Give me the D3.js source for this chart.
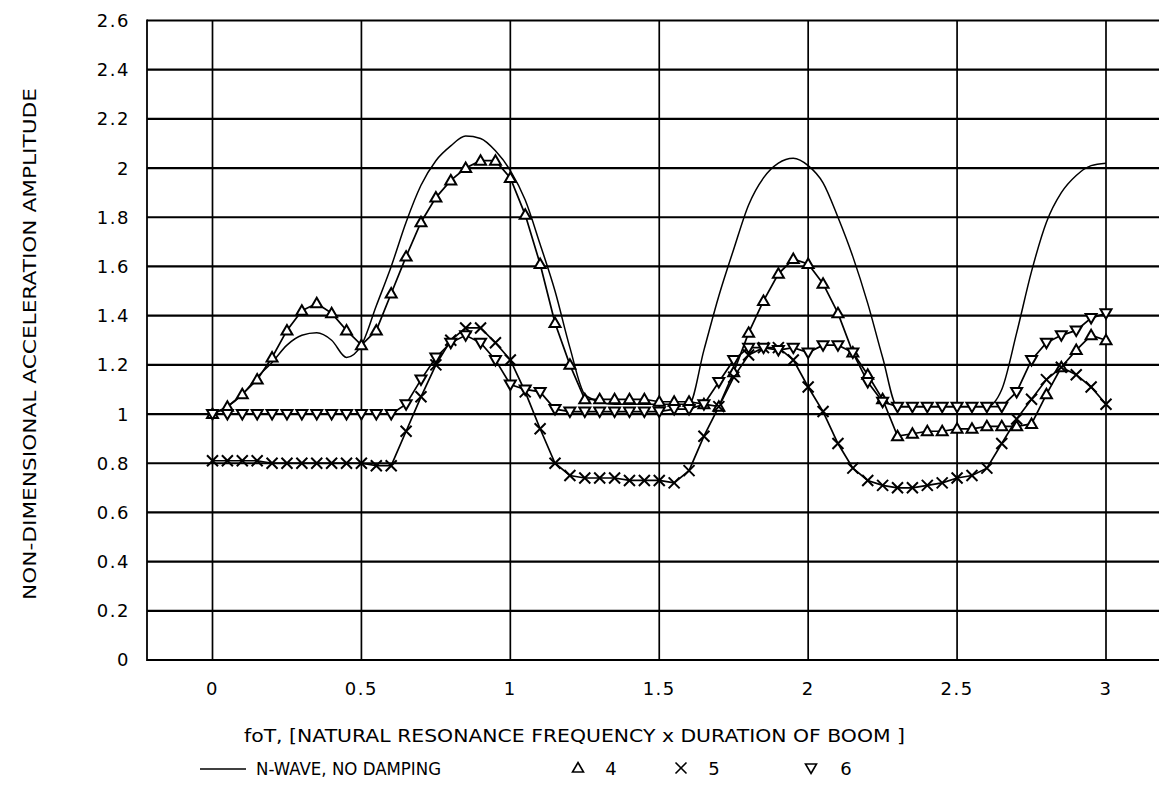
<!DOCTYPE html>
<html>
<head>
<meta charset="utf-8">
<script src="https://cdn.jsdelivr.net/npm/d3@7"></script>
<style>
  body { margin: 0; background: #fff; }
  svg { display: block; }
  text { font-family: "DejaVu Sans", sans-serif; fill: #000; }
</style>
</head>
<body>
<svg id="chart"></svg>
<script>
// foT sample positions (natural resonance frequency x duration of boom)
const foT = [
  0, 0.05, 0.1, 0.15, 0.2, 0.25, 0.3, 0.35, 0.4, 0.45,
  0.5, 0.55, 0.6, 0.65, 0.7, 0.75, 0.8, 0.85, 0.9, 0.95,
  1, 1.05, 1.1, 1.15, 1.2, 1.25, 1.3, 1.35, 1.4, 1.45,
  1.5, 1.55, 1.6, 1.65, 1.7, 1.75, 1.8, 1.85, 1.9, 1.95,
  2, 2.05, 2.1, 2.15, 2.2, 2.25, 2.3, 2.35, 2.4, 2.45,
  2.5, 2.55, 2.6, 2.65, 2.7, 2.75, 2.8, 2.85, 2.9, 2.95, 3
];

// N-wave, no damping (plain line)
const nWave = [
  1.00, 1.03, 1.08, 1.15, 1.21, 1.28, 1.32, 1.33, 1.30, 1.23,
  1.28, 1.44, 1.60, 1.78, 1.93, 2.03, 2.09, 2.13, 2.12, 2.07,
  1.99, 1.87, 1.69, 1.50, 1.27, 1.08, 1.05, 1.04, 1.04, 1.04,
  1.04, 1.04, 1.04, 1.26, 1.48, 1.67, 1.85, 1.96, 2.02, 2.04,
  2.01, 1.94, 1.80, 1.64, 1.45, 1.23, 1.03, 1.03, 1.03, 1.03,
  1.03, 1.03, 1.03, 1.10, 1.33, 1.58, 1.78, 1.90, 1.97, 2.01, 2.02
];

// case 4 (open triangles)
const case4 = [
  1.00, 1.03, 1.08, 1.14, 1.23, 1.34, 1.42, 1.45, 1.41, 1.34,
  1.28, 1.34, 1.49, 1.64, 1.78, 1.88, 1.95, 2.00, 2.03, 2.03,
  1.96, 1.81, 1.61, 1.37, 1.20, 1.06, 1.06, 1.06, 1.06, 1.06,
  1.05, 1.05, 1.05, 1.04, 1.03, 1.17, 1.33, 1.46, 1.57, 1.63,
  1.61, 1.53, 1.41, 1.25, 1.16, 1.06, 0.91, 0.92, 0.93, 0.93,
  0.94, 0.94, 0.95, 0.95, 0.95, 0.96, 1.08, 1.19, 1.26, 1.32, 1.30
];

// case 5 (crosses)
const case5 = [
  0.81, 0.81, 0.81, 0.81, 0.80, 0.80, 0.80, 0.80, 0.80, 0.80,
  0.80, 0.79, 0.79, 0.93, 1.07, 1.20, 1.30, 1.35, 1.35, 1.29,
  1.22, 1.09, 0.94, 0.80, 0.75, 0.74, 0.74, 0.74, 0.73, 0.73,
  0.73, 0.72, 0.77, 0.91, 1.03, 1.15, 1.24, 1.27, 1.27, 1.22,
  1.11, 1.01, 0.88, 0.78, 0.73, 0.71, 0.70, 0.70, 0.71, 0.72,
  0.74, 0.75, 0.78, 0.88, 0.98, 1.06, 1.14, 1.19, 1.16, 1.11, 1.04
];

// case 6 (inverted open triangles)
const case6 = [
  1.00, 1.00, 1.00, 1.00, 1.00, 1.00, 1.00, 1.00, 1.00, 1.00,
  1.00, 1.00, 1.00, 1.04, 1.14, 1.23, 1.29, 1.32, 1.29, 1.22,
  1.12, 1.10, 1.09, 1.02, 1.01, 1.01, 1.01, 1.01, 1.01, 1.01,
  1.01, 1.02, 1.02, 1.04, 1.13, 1.22, 1.27, 1.27, 1.26, 1.27,
  1.25, 1.28, 1.28, 1.25, 1.13, 1.05, 1.03, 1.03, 1.03, 1.03,
  1.03, 1.03, 1.03, 1.03, 1.09, 1.22, 1.29, 1.32, 1.34, 1.39, 1.41
];

const yTicks = [0, 0.2, 0.4, 0.6, 0.8, 1, 1.2, 1.4, 1.6, 1.8, 2, 2.2, 2.4, 2.6];
const xTicks = [0, 0.5, 1, 1.5, 2, 2.5, 3];

const width = 1159;
const height = 792;

const svg = d3.select('#chart')
  .attr('width', width)
  .attr('height', height);

svg.append('rect')
  .attr('width', width)
  .attr('height', height)
  .attr('fill', '#fff');

const x = d3.scaleLinear().domain([0, 3]).range([212.5, 1106]);
const y = d3.scaleLinear().domain([0, 2.6]).range([660, 20.5]);
const frameLeft = 147;
const frameRight = width + 10;

// grid
const grid = svg.append('g').attr('id', 'grid');

grid.selectAll('line.h')
  .data(yTicks)
  .join('line')
  .attr('class', 'h')
  .attr('x1', frameLeft)
  .attr('x2', frameRight)
  .attr('y1', d => y(d))
  .attr('y2', d => y(d))
  .attr('stroke', '#000')
  .attr('stroke-width', 2.2);

grid.selectAll('line.v')
  .data(xTicks)
  .join('line')
  .attr('class', 'v')
  .attr('x1', d => x(d))
  .attr('x2', d => x(d))
  .attr('y1', y(0))
  .attr('y2', y(2.6))
  .attr('stroke', '#000')
  .attr('stroke-width', 1.7);

grid.append('line')
  .attr('x1', frameLeft).attr('x2', frameLeft)
  .attr('y1', y(0) + 1).attr('y2', y(2.6) - 1)
  .attr('stroke', '#000')
  .attr('stroke-width', 1.8);

// tick labels
svg.append('g')
  .selectAll('text')
  .data(yTicks)
  .join('text')
  .attr('x', 130)
  .attr('y', d => y(d))
  .attr('dy', '0.36em')
  .attr('text-anchor', 'end')
  .attr('font-size', 18)
  .attr('letter-spacing', 1.5)
  .text(d => d3.format('~g')(d));

svg.append('g')
  .selectAll('text')
  .data(xTicks)
  .join('text')
  .attr('x', d => x(d))
  .attr('y', 689)
  .attr('dy', '0.36em')
  .attr('text-anchor', 'middle')
  .attr('font-size', 18)
  .attr('letter-spacing', 1.5)
  .text(d => d3.format('~g')(d));

// axis titles
svg.append('text')
  .attr('transform', 'translate(36,344) rotate(-90)')
  .attr('text-anchor', 'middle')
  .attr('font-size', 17)
  .attr('textLength', 512)
  .attr('lengthAdjust', 'spacingAndGlyphs')
  .text('NON-DIMENSIONAL ACCELERATION AMPLITUDE');

svg.append('text')
  .attr('x', 244)
  .attr('y', 742)
  .attr('font-size', 17)
  .attr('textLength', 661)
  .attr('lengthAdjust', 'spacingAndGlyphs')
  .text('foT,  [NATURAL RESONANCE FREQUENCY x DURATION OF BOOM ]');

// markers
const triUp = 'M0,-5.5L5.5,4L-5.5,4Z';
const triDown = 'M0,5.5L5.5,-4L-5.5,-4Z';
const cross = 'M-5.5,-5.5L5.5,5.5M-5.5,5.5L5.5,-5.5';

const series = [
  { name: '4', values: case4, marker: triUp, filled: true },
  { name: '5', values: case5, marker: cross, filled: false },
  { name: '6', values: case6, marker: triDown, filled: true }
];

const plot = svg.append('g').attr('id', 'viz');

const smoothLine = d3.line()
  .x((d, i) => x(foT[i]))
  .y(d => y(d))
  .curve(d3.curveMonotoneX);

const markLine = d3.line()
  .x((d, i) => x(foT[i]))
  .y(d => y(d));

plot.append('path')
  .attr('d', smoothLine(nWave))
  .attr('fill', 'none')
  .attr('stroke', '#000')
  .attr('stroke-width', 1.5);

series.forEach(s => {
  plot.append('path')
    .attr('d', markLine(s.values))
    .attr('fill', 'none')
    .attr('stroke', '#000')
    .attr('stroke-width', 1.7);
});

series.forEach(s => {
  plot.append('g')
    .selectAll('path')
    .data(s.values)
    .join('path')
    .attr('transform', (d, i) => `translate(${x(foT[i])},${y(d)})`)
    .attr('d', s.marker)
    .attr('fill', s.filled ? '#fff' : 'none')
    .attr('stroke', '#000')
    .attr('stroke-width', 2);
});

// legend
const legend = svg.append('g').attr('id', 'legend');

legend.append('line')
  .attr('x1', 200).attr('x2', 246)
  .attr('y1', 769).attr('y2', 769)
  .attr('stroke', '#000')
  .attr('stroke-width', 1.5);

legend.append('text')
  .attr('x', 256)
  .attr('y', 775)
  .attr('font-size', 17)
  .attr('textLength', 185)
  .attr('lengthAdjust', 'spacingAndGlyphs')
  .text('N-WAVE, NO DAMPING');

const legendItems = [
  { marker: triUp, mx: 578, label: '4', lx: 611, filled: true },
  { marker: cross, mx: 681, label: '5', lx: 714, filled: false },
  { marker: triDown, mx: 811, label: '6', lx: 846, filled: true }
];

legendItems.forEach(item => {
  legend.append('path')
    .attr('transform', `translate(${item.mx},768)`)
    .attr('d', item.marker)
    .attr('fill', item.filled ? '#fff' : 'none')
    .attr('stroke', '#000')
    .attr('stroke-width', 1.6);
  legend.append('text')
    .attr('x', item.lx)
    .attr('y', 775)
    .attr('text-anchor', 'middle')
    .attr('font-size', 18)
    .text(item.label);
});
</script>
</body>
</html>
